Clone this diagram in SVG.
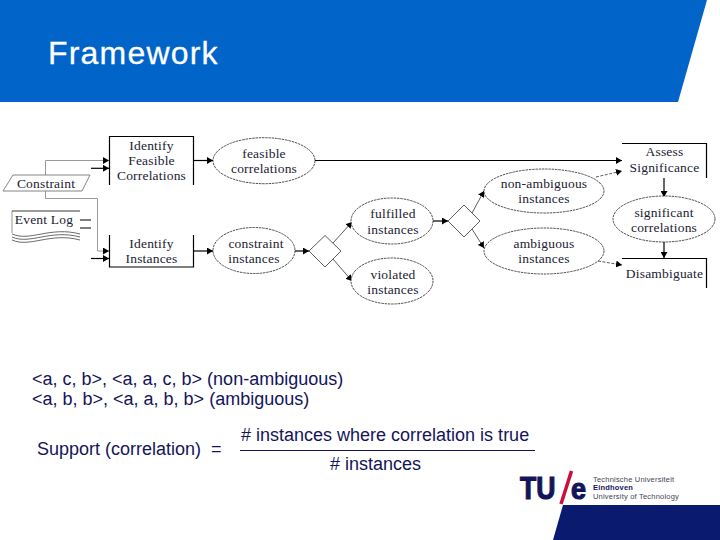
<svg xmlns="http://www.w3.org/2000/svg" width="720" height="540" viewBox="0 0 720 540">
<style>
.b{fill:none;stroke:#000;stroke-width:1.2}
.e{fill:#fff;stroke:#222;stroke-width:.8;stroke-dasharray:2.5 .8}
.d{fill:#fff;stroke:#333;stroke-width:.8}
.t{font-family:"Liberation Serif","DejaVu Serif",serif;font-size:13.5px;fill:#223;text-anchor:middle;letter-spacing:.2px}
.f{font-family:"Liberation Sans",Arial,sans-serif;font-size:18px;fill:#14145a}
.c{fill:none;stroke:#000;stroke-width:1.2;marker-end:url(#a)}
.n{fill:none;stroke:#000;stroke-width:1.2}
.g{fill:none;stroke:#999;stroke-width:1;marker-end:url(#a)}
.h{fill:none;stroke:#333;stroke-width:.8;marker-end:url(#a)}
.s{fill:none;stroke:#333;stroke-width:.8;stroke-dasharray:3 1.500;marker-end:url(#a)}
.l{font-family:"Liberation Sans",Arial,sans-serif;font-size:7.5px;fill:#445;letter-spacing:.2px}
.m{font-family:"Liberation Sans",Arial,sans-serif;font-weight:bold;fill:#14145a;stroke:#14145a;stroke-width:1.2}
</style>
<defs><marker id="a" markerUnits="userSpaceOnUse" markerWidth="7" markerHeight="7" refX="6" refY="3.500" orient="auto"><path d="M0 0L6 3.500L0 7Z" fill="#000"/></marker></defs>
<rect width="720" height="540" fill="#fff"/>
<polygon id="header" points="0,0 707,0 678,102 0,102" fill="#0064c8"/>
<text x="48" y="64" font-family="'Liberation Sans',Arial,sans-serif" font-size="32" fill="#fff" stroke="#fff" stroke-width=".3" letter-spacing="1.200">Framework</text>

<g id="connectors">
<path class="g" d="M45.500 175V160.500H109"/>
<path class="c" d="M91 168.300H109"/>
<path class="g" d="M45.500 191V198.500H97.500V251H109"/>
<path class="c" d="M91 258.500H109"/>
<path class="n" d="M80 220H91M80 228H91"/>
<path class="c" d="M193 160.500H213"/>
<path class="c" d="M193 251H213"/>
<path class="c" d="M315 160.500H622"/>
<path class="c" d="M295 251H309"/>
<path class="h" d="M333 243L352 222"/>
<path class="h" d="M333 259L352 281"/>
<path class="c" d="M433 221H448"/>
<path class="h" d="M472 213L484 191"/>
<path class="h" d="M472 229L484 248"/>
<path class="s" d="M596 177L622 171"/>
<path class="s" d="M598 261L622 265"/>
<path class="c" d="M664 178V197"/>
<path class="c" d="M664 242V258"/>
</g>

<g id="identify-feasible">
<path class="b" d="M109.500 185V136.500H193.500V185"/>
<text class="t" x="151.500" y="150">Identify</text><text class="t" x="151.500" y="165">Feasible</text><text class="t" x="151.500" y="180">Correlations</text>
</g>
<g id="identify-instances">
<path class="b" d="M109.500 235V267H193.500V235"/>
<text class="t" x="151.500" y="248">Identify</text><text class="t" x="151.500" y="263">Instances</text>
</g>
<g id="constraint">
<path d="M3 191H82L90 175H13Z" fill="none" stroke="#777" stroke-width=".9"/>
<rect x="16" y="176" width="60" height="14" fill="#fff"/>
<text class="t" x="46" y="188">Constraint</text>
</g>
<g id="event-log">
<path d="M12 211H80" fill="none" stroke="#222" stroke-width=".9"/>
<path d="M12 211V233" fill="none" stroke="#666" stroke-width=".7"/>
<path d="M12 234C30 242 50 226 80 234M12 237C30 245 50 229 80 237M12 240C30 248 50 232 80 240" fill="none" stroke="#444" stroke-width=".8"/>
<text class="t" x="44" y="224">Event Log</text>
</g>
<g id="feasible-correlations">
<ellipse class="e" cx="264" cy="160.700" rx="51" ry="23"/>
<text class="t" x="264" y="158">feasible</text><text class="t" x="264" y="173">correlations</text>
</g>
<g id="constraint-instances">
<ellipse class="e" cx="254" cy="250.500" rx="41" ry="23"/>
<text class="t" x="256" y="248">constraint</text><text class="t" x="254" y="263">instances</text>
</g>
<g id="split-1"><polygon class="d" points="325,235.500 341,251 325,267 309,251"/></g>
<g id="fulfilled-instances">
<ellipse class="e" cx="392" cy="221" rx="41" ry="23"/>
<text class="t" x="393" y="218">fulfilled</text><text class="t" x="393" y="234">instances</text>
</g>
<g id="violated-instances">
<ellipse class="e" cx="392" cy="281" rx="41" ry="23"/>
<text class="t" x="393" y="279">violated</text><text class="t" x="393" y="294">instances</text>
</g>
<g id="split-2"><polygon class="d" points="464,205 480,221 464,237 448,221"/></g>
<g id="non-ambiguous-instances">
<ellipse class="e" cx="544" cy="191" rx="60" ry="22"/>
<text class="t" x="544" y="188">non-ambiguous</text><text class="t" x="544" y="203">instances</text>
</g>
<g id="ambiguous-instances">
<ellipse class="e" cx="544" cy="251" rx="60" ry="23"/>
<text class="t" x="544" y="248">ambiguous</text><text class="t" x="544" y="263">instances</text>
</g>
<g id="assess-significance">
<path class="b" d="M622 143.500H706.500V178"/>
<text class="t" x="664.500" y="156">Assess</text><text class="t" x="664.500" y="172">Significance</text>
</g>
<g id="significant-correlations">
<ellipse class="e" cx="664" cy="219" rx="51" ry="23"/>
<text class="t" x="664" y="217">significant</text><text class="t" x="664" y="232">correlations</text>
</g>
<g id="disambiguate">
<path class="b" d="M622 258.500H706.500V288"/>
<text class="t" x="664.500" y="278">Disambiguate</text>
</g>

<text class="f" x="32" y="385">&lt;a, c, b&gt;, &lt;a, a, c, b&gt; (non-ambiguous)</text>
<text class="f" x="32" y="405">&lt;a, b, b&gt;, &lt;a, a, b, b&gt; (ambiguous)</text>
<text class="f" x="37" y="455" xml:space="preserve">Support (correlation)  =</text>
<text class="f" x="241" y="441"># instances where correlation is true</text>
<path d="M240 450.500H535" stroke="#14145a" stroke-width="1"/>
<text class="f" x="330" y="470"># instances</text>

<polygon id="footer" points="563,505 720,505 720,540 553,540" fill="#0a1a6e"/>
<g id="logo">
<text class="m" x="520" y="499" font-size="32" textLength="35.500" lengthAdjust="spacingAndGlyphs">TU</text>
<path d="M571.500 471L561 504" stroke="#c8103c" stroke-width="3.500"/>
<text class="m" x="571" y="499" font-size="29" textLength="15" lengthAdjust="spacingAndGlyphs">e</text>
<text class="l" x="593" y="482">Technische Universiteit</text>
<text class="l" x="593" y="490" style="fill:#14145a;font-weight:bold">Eindhoven</text>
<text class="l" x="593" y="499">University of Technology</text>
</g>
</svg>
